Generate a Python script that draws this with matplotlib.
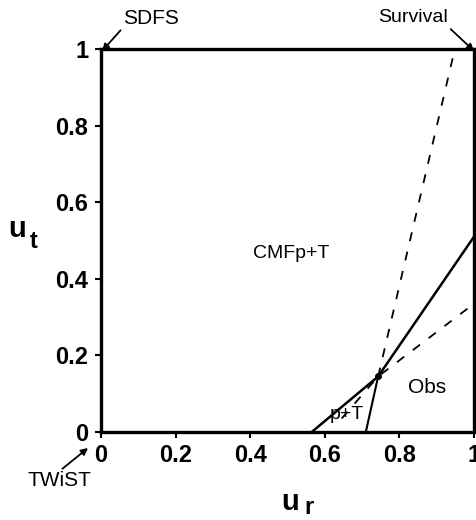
import matplotlib.pyplot as plt
import numpy as np

plt.rcParams["font.family"] = ["Liberation Sans", "DejaVu Sans"]

# region boundaries (u_r, u_t)
junction = (0.743, 0.145)
obs_ur = [0.743, 1.0]
obs_ut = [0.145, 0.51]
pt_left_ur = [0.565, 0.743]
pt_left_ut = [0.0, 0.145]
pt_right_ur = [0.71, 0.743]
pt_right_ut = [0.0, 0.145]
steep_ur = [0.743, 0.945]
steep_ut = [0.145, 0.985]
shallow_ur = [0.645, 0.743, 1.0]
shallow_ut = [0.035, 0.145, 0.335]

ticks = [0, 0.2, 0.4, 0.6, 0.8, 1.0]
tick_labels = ["0", "0.2", "0.4", "0.6", "0.8", "1"]


def plot():
    fig = plt.figure(figsize=(4.76, 5.2), dpi=100)
    ax = fig.add_axes([101 / 476, 1 - 432 / 520, 373 / 476, 383 / 520])

    ax.plot(obs_ur, obs_ut, c="k", lw=1.8)
    ax.plot(pt_left_ur, pt_left_ut, c="k", lw=1.8)
    ax.plot(pt_right_ur, pt_right_ut, c="k", lw=1.5)
    ax.plot(steep_ur, steep_ut, c="k", lw=1.3, ls=(0, (5, 6)))
    ax.plot(shallow_ur, shallow_ut, c="k", lw=1.3, ls=(0, (5, 6)))
    ax.plot(*junction, "o", c="k", ms=4)

    ax.set_xlim(0, 1)
    ax.set_ylim(0, 1)
    for s in ax.spines.values():
        s.set_linewidth(2.4)
    ax.set_xticks(ticks, tick_labels)
    ax.set_yticks(ticks, tick_labels)
    ax.tick_params(direction="out", length=4, width=1.5, labelsize=17, pad=5)
    for lab in ax.get_xticklabels() + ax.get_yticklabels():
        lab.set_fontweight("bold")

    ax.text(0.51, 0.465, "CMFp+T", fontsize=14, ha="center", va="center")
    ax.text(0.874, 0.115, "Obs", fontsize=15, ha="center", va="center")
    ax.text(0.66, 0.045, "p+T", fontsize=14, ha="center", va="center")

    # axis labels
    fig.text(17 / 476, 1 - 229 / 520, "u", fontsize=21, fontweight="bold",
             ha="center", va="center")
    fig.text(34 / 476, 1 - 242 / 520, "t", fontsize=17, fontweight="bold",
             ha="center", va="center")
    fig.text(290 / 476, 1 - 502 / 520, "u", fontsize=21, fontweight="bold",
             ha="center", va="center")
    fig.text(309 / 476, 1 - 508 / 520, "r", fontsize=17, fontweight="bold",
             ha="center", va="center")

    arrow = dict(arrowstyle="-|>", color="k", lw=1.3, mutation_scale=10,
                 shrinkA=0, shrinkB=0)
    ax.annotate("SDFS", xy=(0.003, 0.995), xycoords="data",
                xytext=(151 / 476, 1 - 18 / 520), textcoords="figure fraction",
                fontsize=15, ha="center", va="center",
                arrowprops=dict(arrow, relpos=(0.0, 0.0)), annotation_clip=False)
    ax.annotate("Survival", xy=(1.0, 0.995), xycoords="data",
                xytext=(413 / 476, 1 - 18 / 520), textcoords="figure fraction",
                fontsize=14, ha="center", va="center",
                arrowprops=dict(arrow, relpos=(1.0, 0.0)), annotation_clip=False)
    ax.annotate("TWiST", xy=(88 / 476, 1 - 448 / 520), xycoords="figure fraction",
                xytext=(59 / 476, 1 - 481 / 520), textcoords="figure fraction",
                fontsize=15, ha="center", va="center",
                arrowprops=dict(arrow, relpos=(0.5, 1.0)), annotation_clip=False)

    fig.savefig("out.png", dpi=100)


if __name__ == "__main__":
    plot()
